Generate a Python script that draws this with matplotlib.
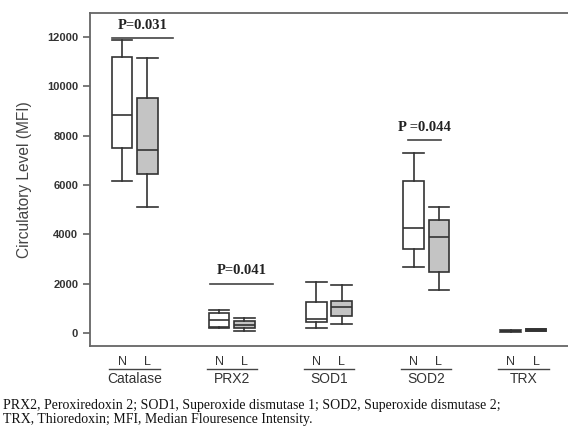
import matplotlib
matplotlib.use("Agg")
import matplotlib.pyplot as plt
import matplotlib.transforms as mtransforms

# data (MFI values)
markers = ["Catalase", "PRX2", "SOD1", "SOD2", "TRX"]
groups = ["N", "L"]

# whisker low, Q1, median, Q3, whisker high
n_low = [6170, 220, 190, 2665, 50]
n_q1 = [7495, 256, 434, 3420, 65]
n_med = [8850, 528, 555, 4235, 80]
n_q3 = [11200, 800, 1245, 6140, 95]
n_high = [11890, 933, 2057, 7290, 110]

l_low = [5100, 93, 353, 1760, 60]
l_q1 = [6440, 190, 690, 2490, 85]
l_med = [7400, 325, 1070, 3880, 110]
l_q3 = [9525, 487, 1310, 4560, 140]
l_high = [11130, 620, 1950, 5125, 160]

p_labels = ["P=0.031", "P=0.041", "P =0.044"]
p_level = [11960, 2000, 7830]
p_span = [(0.77, 1.39), (1.78, 2.42), (3.81, 4.15)]

caption = ("PRX2, Peroxiredoxin 2; SOD1, Superoxide dismutase 1; SOD2, Superoxide dismutase 2;\n"
           "TRX, Thioredoxin; MFI, Median Flouresence Intensity.")


def stats(lo, q1, med, q3, hi):
    return [dict(whislo=a, q1=b, med=c, q3=d, whishi=e, fliers=[])
            for a, b, c, d, e in zip(lo, q1, med, q3, hi)]


fig = plt.figure(figsize=(5.68, 4.30), dpi=100)
ax = fig.add_axes([90 / 568, 1 - 346 / 430, 478 / 568, 333 / 430])

edge = "#333333"
off = 0.13
width = 0.21
centers = list(range(1, len(markers) + 1))

for grp_stats, shift, fill in [(stats(n_low, n_q1, n_med, n_q3, n_high), -off, "white"),
                               (stats(l_low, l_q1, l_med, l_q3, l_high), off, "#c4c4c4")]:
    ax.bxp(grp_stats, positions=[c + shift for c in centers], widths=width,
           showfliers=False, patch_artist=True, capwidths=width,
           boxprops=dict(facecolor=fill, edgecolor=edge, linewidth=1.2),
           medianprops=dict(color=edge, linewidth=1.2),
           whiskerprops=dict(color=edge, linewidth=1.2),
           capprops=dict(color=edge, linewidth=1.2))

ax.set_xlim(0.54, 5.46)
ax.set_ylim(-530, 12970)
ax.set_yticks([0, 2000, 4000, 6000, 8000, 10000, 12000])
ax.tick_params(axis="y", labelsize=8, labelcolor="#333333", color="#555555",
               length=5, width=1.1)
for lab in ax.get_yticklabels():
    lab.set_fontfamily("Liberation Sans")
    lab.set_fontweight("bold")
ax.set_xticks([])
ax.spines["right"].set_visible(False)
for s in ["left", "top", "bottom"]:
    ax.spines[s].set_color("#666666")
    ax.spines[s].set_linewidth(1.3)

ax.set_ylabel("Circulatory Level (MFI)", fontsize=11.2, color="#444444",
              family="Liberation Sans", labelpad=11)

# significance bars
for lab, lvl, (x0, x1) in zip(p_labels, p_level, p_span):
    ax.plot([x0, x1], [lvl, lvl], color="#444444", lw=1.2)
    ax.text((x0 + x1) / 2, lvl + 250, lab, ha="center", va="bottom",
            fontsize=10.5, fontweight="bold", family="Liberation Serif",
            color="#222222")

# N / L labels below each marker
trans = mtransforms.blended_transform_factory(ax.transData, ax.transAxes)
for c, name in zip(centers, markers):
    ax.text(c - off, -0.048, groups[0], transform=trans, ha="center", va="center",
            fontsize=9, family="Liberation Sans", color="#333333")
    ax.text(c + off, -0.048, groups[1], transform=trans, ha="center", va="center",
            fontsize=9, family="Liberation Sans", color="#333333")
    ax.plot([c - 0.26, c + 0.26], [-0.069, -0.069], transform=trans,
            color="#444444", lw=1.0, clip_on=False)
    ax.text(c, -0.098, name, transform=trans, ha="center", va="center",
            fontsize=10, family="Liberation Sans", color="#333333")

fig.text(3 / 568, 1 - 399 / 430, caption, ha="left", va="top", fontsize=10,
         family="Liberation Serif", color="#111111", linespacing=1.05)

fig.savefig("out.png", dpi=100, facecolor="white")
